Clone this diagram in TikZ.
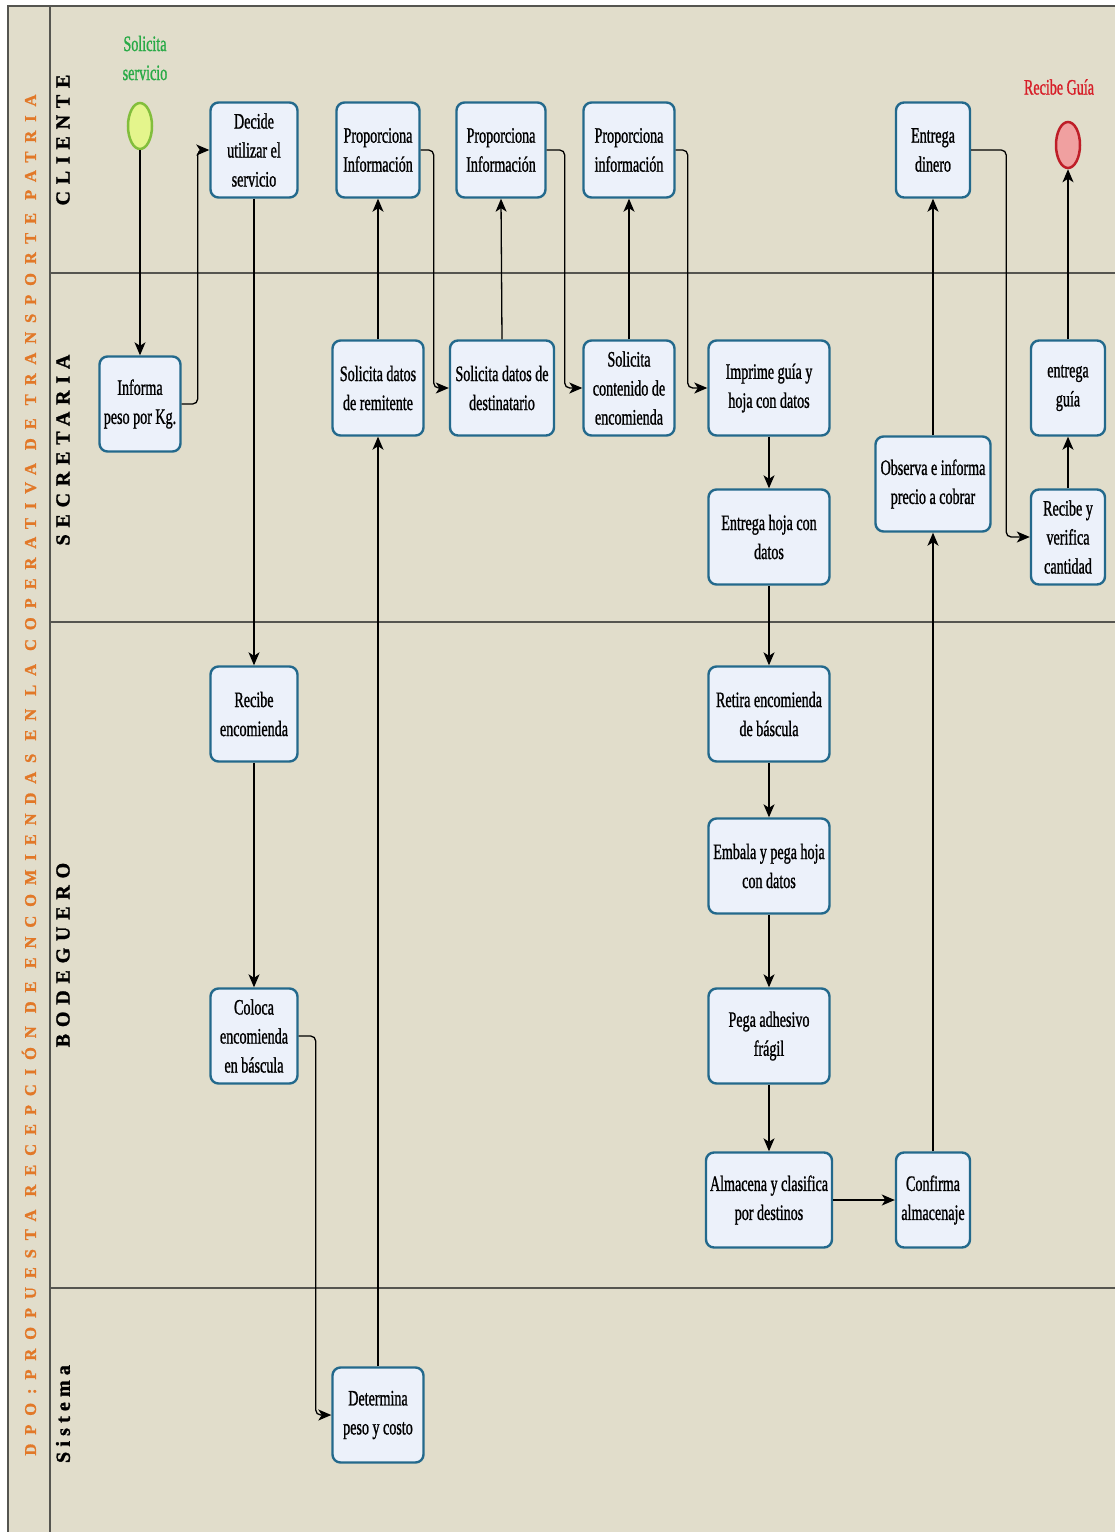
\documentclass[tikz,border=0pt]{standalone}
\usepackage{fontspec}
\setmainfont{Liberation Serif}
\newfontfamily\boxfont[FakeStretch=0.64,FakeBold=1.0]{Liberation Serif}
\newfontfamily\lanefont[LetterSpace=34,FakeBold=1.4]{Liberation Serif Bold}
\newfontfamily\smallspacedfont[LetterSpace=26,FakeBold=1.4]{Liberation Serif Bold}
\newfontfamily\titlefont[LetterSpace=54,FakeBold=1.2]{Liberation Serif Bold}
\usetikzlibrary{arrows.meta,shapes.geometric}

\definecolor{paper}{RGB}{225,221,203}
\definecolor{boxfill}{RGB}{236,241,250}
\definecolor{boxborder}{RGB}{35,105,140}
\definecolor{laneline}{RGB}{85,85,80}
\definecolor{titleorange}{RGB}{225,120,40}
\definecolor{startgreen}{RGB}{40,170,70}
\definecolor{startfill}{RGB}{228,245,140}
\definecolor{startline}{RGB}{130,190,60}
\definecolor{endred}{RGB}{215,30,40}
\definecolor{endfill}{RGB}{240,160,160}
\definecolor{endline}{RGB}{190,30,40}

\tikzset{
  task/.style={draw=boxborder, line width=2.4pt, fill=boxfill, rounded corners=8pt,
    minimum height=95pt, align=center, inner sep=2pt,
    font=\boxfont\fontsize{22}{29}\selectfont},
  event/.style={ellipse, line width=2.5pt, minimum width=24pt, minimum height=46pt, inner sep=0pt},
  flow/.style={line width=1.3pt, rounded corners=5pt,
    -{Stealth[length=13pt,width=11pt,inset=3.5pt]}},
  lanetitle/.style={rotate=90, font=\lanefont\fontsize{20}{24}\selectfont},
  sep/.style={draw=laneline, line width=1.9pt},
  eventlabel/.style={align=center, font=\boxfont\fontsize{22}{29}\selectfont}
}

\begin{document}
\begin{tikzpicture}[x=1pt,y=-1pt]
\useasboundingbox (0,0) rectangle (1115,1532);
\fill[white] (0,0) rectangle (1115,1532);
\fill[paper] (8,6) rectangle (1115,1532);

% pool frame and lane separators
\draw[sep] (8,1532) -- (8,6) -- (1115,6);
\draw[sep] (50,6) -- (50,1532);
\draw[sep] (50,273) -- (1115,273);
\draw[sep] (50,622) -- (1115,622);
\draw[sep] (50,1288) -- (1115,1288);

% pool and lane titles
\node[rotate=90, text=titleorange, font=\titlefont\fontsize{16.5}{20}\selectfont] (pool) at (29,775)
  {DPO:PROPUESTA RECEPCIÓN DE ENCOMIENDAS EN LA COPERATIVA DE TRANSPORTE PATRIA};
\node[lanetitle] (lcliente) at (63,140) {CLIENTE};
\node[lanetitle] (lsecretaria) at (63,450) {SECRETARIA};
\node[lanetitle] (lbodeguero) at (63,955) {BODEGUERO};
\node[rotate=90, font=\smallspacedfont\fontsize{20}{24}\selectfont] (lsistema) at (63,1414) {Sistema};

% events
\node[event, draw=startline, fill=startfill] (start) at (140,126) {};
\node[eventlabel, text=startgreen] (startlabel) at (145,58) {Solicita\\servicio};
\node[event, draw=endline, fill=endfill] (end) at (1068,145) {};
\node[eventlabel, text=endred] (endlabel) at (1059,87) {Recibe Guía};

% CLIENTE
\node[task, minimum width=87pt] (decide) at (254,150) {Decide\\utilizar el\\servicio};
\node[task, minimum width=83pt] (prop1) at (378,150) {Proporciona\\Información};
\node[task, minimum width=89pt] (prop2) at (501,150) {Proporciona\\Información};
\node[task, minimum width=91pt] (prop3) at (629,150) {Proporciona\\información};
\node[task, minimum width=74pt] (dinero) at (933,150) {Entrega\\dinero};

% SECRETARIA
\node[task, minimum width=81pt] (informa) at (140,404) {Informa\\peso por Kg.};
\node[task, minimum width=91pt] (remit) at (378,388) {Solicita datos\\de remitente};
\node[task, minimum width=104pt] (destin) at (502,388) {Solicita datos de\\destinatario};
\node[task, minimum width=91pt] (conten) at (629,388) {Solicita\\contenido de\\encomienda};
\node[task, minimum width=121pt] (imprime) at (769,388) {Imprime guía y\\hoja con datos};
\node[task, minimum width=74pt] (eguia) at (1068,388) {entrega\\guía};
\node[task, minimum width=121pt] (ehoja) at (769,537) {Entrega hoja con\\datos};
\node[task, minimum width=115pt] (observa) at (933,484) {Observa e informa\\precio a cobrar};
\node[task, minimum width=74pt] (recibev) at (1068,537) {Recibe y\\verifica\\cantidad};

% BODEGUERO
\node[task, minimum width=87pt] (recibe) at (254,714) {Recibe\\encomienda};
\node[task, minimum width=121pt] (retira) at (769,714) {Retira encomienda\\de báscula};
\node[task, minimum width=121pt] (embala) at (769,866) {Embala y pega hoja\\con datos};
\node[task, minimum width=87pt] (coloca) at (254,1036) {Coloca\\encomienda\\en báscula};
\node[task, minimum width=121pt] (pega) at (769,1036) {Pega adhesivo\\frágil};
\node[task, minimum width=126pt] (almacena) at (769,1200) {Almacena y clasifica\\por destinos};
\node[task, minimum width=74pt] (confirma) at (933,1200) {Confirma\\almacenaje};

% Sistema
\node[task, minimum width=91pt] (determina) at (378,1415) {Determina\\peso y costo};

% sequence flows
\draw[flow] (start.south) -- (informa.north);
\draw[flow] (informa.east) -- ++(16,0) |- (decide.west);
\draw[flow] (decide.south) -- (recibe.north);
\draw[flow] (recibe.south) -- (coloca.north);
\draw[flow] (coloca.east) -- ++(17,0) |- (determina.west);
\draw[flow] (determina.north) -- (remit.south);
\draw[flow] (remit.north) -- (prop1.south);
\draw[flow] (prop1.east) -- ++(13,0) |- (destin.west);
\draw[flow] (destin.north) -- (prop2.south);
\draw[flow] (prop2.east) -- ++(18,0) |- (conten.west);
\draw[flow] (conten.north) -- (prop3.south);
\draw[flow] (prop3.east) -- ++(12,0) |- (imprime.west);
\draw[flow] (imprime.south) -- (ehoja.north);
\draw[flow] (ehoja.south) -- (retira.north);
\draw[flow] (retira.south) -- (embala.north);
\draw[flow] (embala.south) -- (pega.north);
\draw[flow] (pega.south) -- (almacena.north);
\draw[flow] (almacena.east) -- (confirma.west);
\draw[flow] (confirma.north) -- (observa.south);
\draw[flow] (observa.north) -- (dinero.south);
\draw[flow] (dinero.east) -- ++(35,0) |- (recibev.west);
\draw[flow] (recibev.north) -- (eguia.south);
\draw[flow] (eguia.north) -- (end.south);
\end{tikzpicture}
\end{document}
